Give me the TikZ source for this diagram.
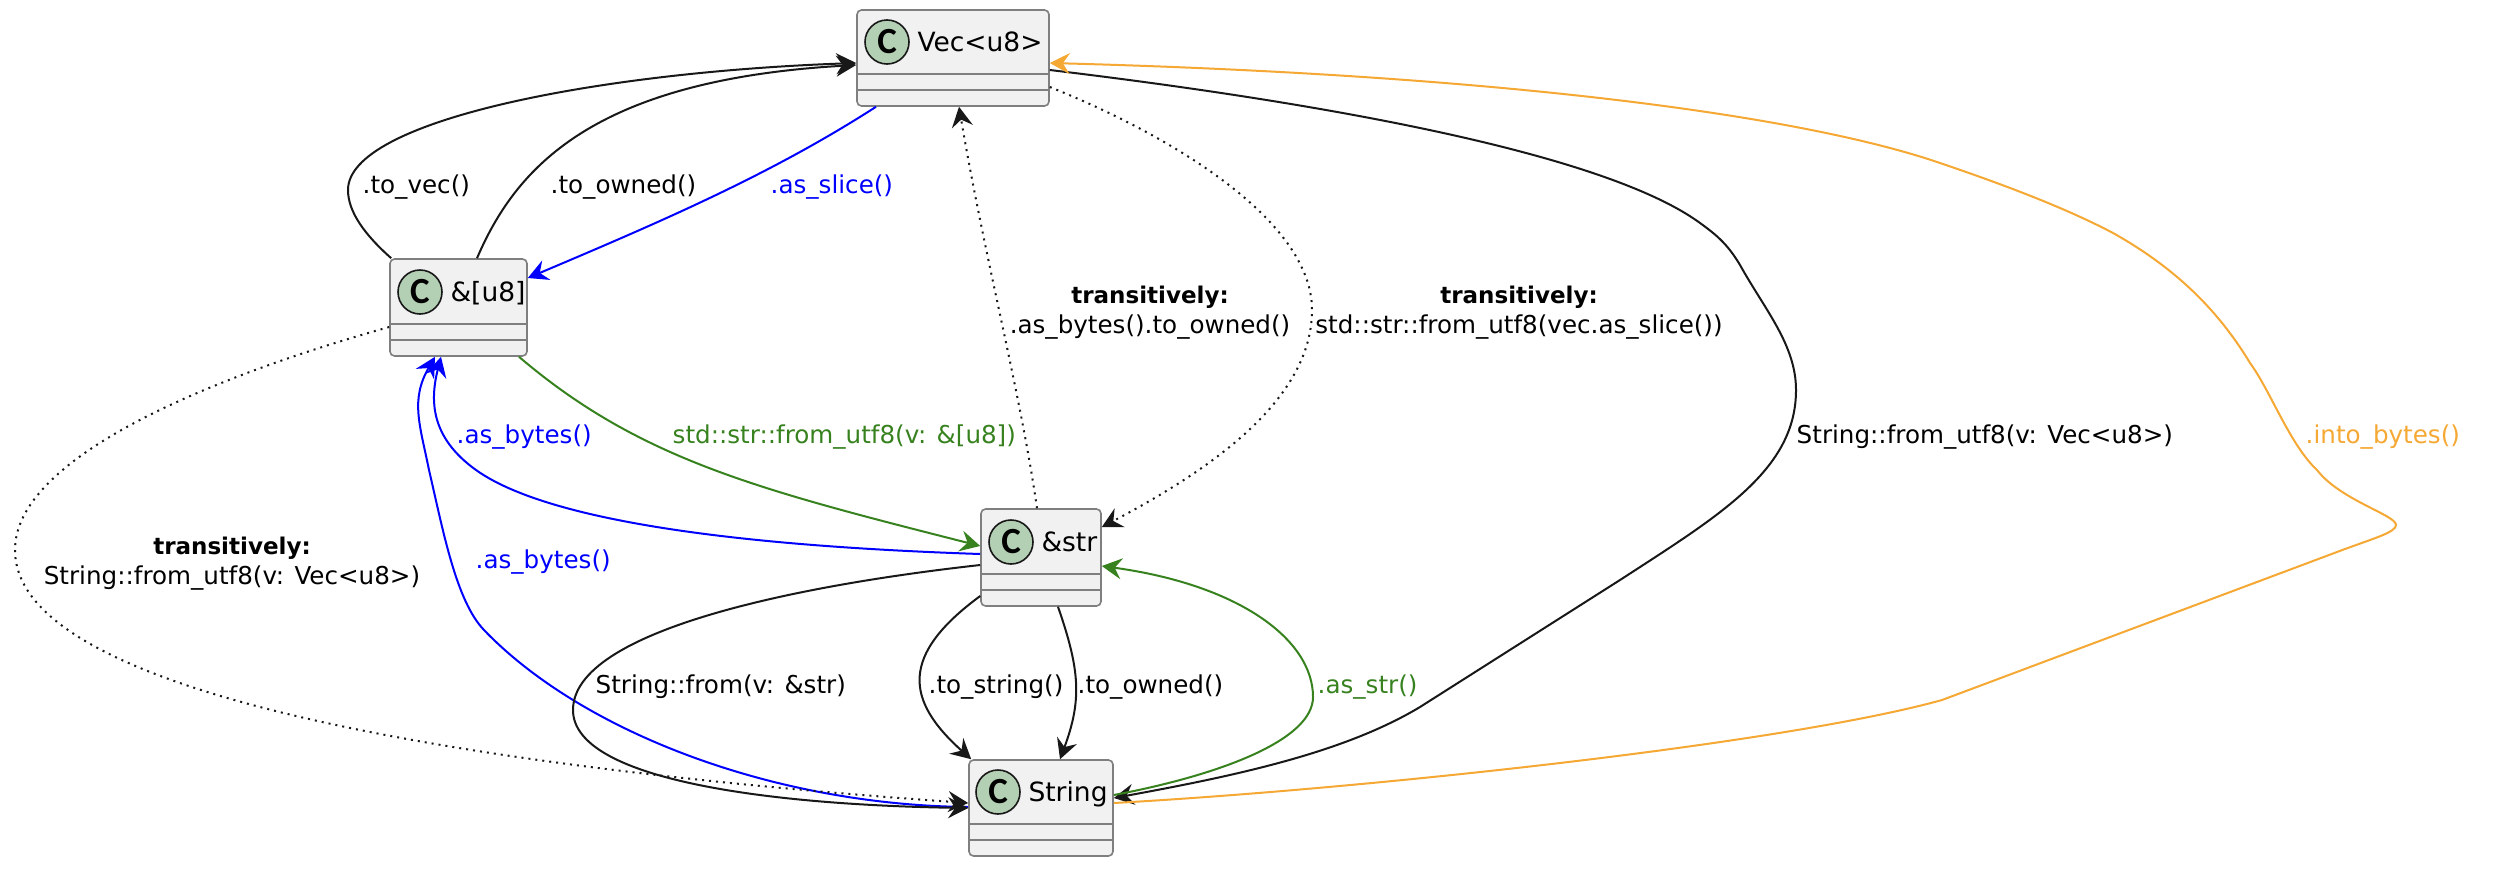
\documentclass[tikz,border=0pt]{standalone}
\usepackage{fontspec}
\setmainfont{DejaVu Sans}
\newfontfamily\spotfont{Carlito}
\usetikzlibrary{arrows.meta, positioning}
\definecolor{boxfill}{HTML}{F1F1F1}
\definecolor{boxline}{HTML}{7F7F7F}
\definecolor{spotfill}{HTML}{B4D0B4}
\definecolor{linkblack}{HTML}{181818}
\definecolor{linkblue}{HTML}{0000FF}
\definecolor{linkgreen}{HTML}{37821F}
\definecolor{linkorange}{HTML}{F5A833}
\newcommand{\transitword}{{\fontsize{6.55}{8.5}\selectfont\bfseries transitively:}}
\tikzstyle{classbox} = [rectangle, rounded corners=0.45mm, draw=boxline, fill=boxfill, line width=0.16mm, inner sep=0pt]
\tikzstyle{spot} = [circle, draw=linkblack, fill=spotfill, line width=0.16mm, minimum size=4.4mm, inner sep=0pt, font=\spotfont\bfseries\fontsize{10.5}{10.5}\selectfont]
\tikzstyle{classtitle} = [inner sep=0pt, text height=5.68pt, text depth=0pt, font=\fontsize{7.54}{9}\selectfont]
\tikzstyle{divider} = [draw=boxline, line width=0.16mm]
\tikzstyle{edgetext} = [inner sep=0pt, anchor=base west, font=\fontsize{7}{8.5}\selectfont]
\tikzstyle{transit} = [inner sep=0pt, align=center, font=\fontsize{7}{8.5}\selectfont]
\tikzstyle{arrow} = [line width=0.2mm, linkblack, -{Stealth[length=2mm, width=2.1mm, inset=0.7mm]}]
\tikzstyle{dotted arrow} = [arrow, dash pattern=on 0.2mm off 0.5mm]

\begin{document}
\begin{tikzpicture}[x=0.1mm, y=-0.1mm]
\useasboundingbox (0,0) rectangle (2504,868);

% classes
\node (vec) [classbox, minimum width=19.2mm, minimum height=9.6mm] at (953,58) {};
\node (vecspot) [spot] at (887,42) {C};
\node (vectitle) [classtitle, right=0.7mm of vecspot] {Vec<u8>};
\draw [divider] ([xshift=0.2mm, yshift=-1.6mm]vec.west) -- ([xshift=-0.2mm, yshift=-1.6mm]vec.east);
\draw [divider] ([xshift=0.2mm, yshift=-3.2mm]vec.west) -- ([xshift=-0.2mm, yshift=-3.2mm]vec.east);

\node (bytes) [classbox, minimum width=13.7mm, minimum height=9.7mm] at (458.5,307.5) {};
\node (bytesspot) [spot] at (420,292) {C};
\node (bytestitle) [classtitle, right=0.7mm of bytesspot] {\&[u8]};
\draw [divider] ([xshift=0.2mm, yshift=-1.65mm]bytes.west) -- ([xshift=-0.2mm, yshift=-1.65mm]bytes.east);
\draw [divider] ([xshift=0.2mm, yshift=-3.25mm]bytes.west) -- ([xshift=-0.2mm, yshift=-3.25mm]bytes.east);

\node (str) [classbox, minimum width=12mm, minimum height=9.7mm] at (1041,557.5) {};
\node (strspot) [spot] at (1011,542) {C};
\node (strtitle) [classtitle, right=0.7mm of strspot] {\&str};
\draw [divider] ([xshift=0.2mm, yshift=-1.65mm]str.west) -- ([xshift=-0.2mm, yshift=-1.65mm]str.east);
\draw [divider] ([xshift=0.2mm, yshift=-3.25mm]str.west) -- ([xshift=-0.2mm, yshift=-3.25mm]str.east);

\node (string) [classbox, minimum width=14.4mm, minimum height=9.6mm] at (1041,808) {};
\node (stringspot) [spot] at (998,792) {C};
\node (stringtitle) [classtitle, right=0.7mm of stringspot] {String};
\draw [divider] ([xshift=0.2mm, yshift=-1.6mm]string.west) -- ([xshift=-0.2mm, yshift=-1.6mm]string.east);
\draw [divider] ([xshift=0.2mm, yshift=-3.2mm]string.west) -- ([xshift=-0.2mm, yshift=-3.2mm]string.east);

% connectors
\draw [arrow] ([xshift=0.2mm]bytes.north west) .. controls (365,235) and (348,212) .. (348,190) .. controls (348,120) and (600,72) .. ([yshift=-0.5mm]vec.west);
\draw [arrow] ([xshift=1.85mm]bytes.north) .. controls (515,170) and (590,80) .. ([yshift=-0.7mm]vec.west);
\draw [arrow, linkblue] ([xshift=-7.7mm]vec.south) .. controls (770,175) and (660,222) .. ([yshift=2.95mm]bytes.east);
\draw [arrow, linkgreen] ([xshift=6.05mm]bytes.south) .. controls (640,460) and (760,490) .. ([yshift=1.15mm]str.west);
\draw [arrow, linkblue] ([yshift=0.35mm]str.west) .. controls (800,548) and (560,530) .. (476,470) .. controls (430,437) and (430,400) .. ([xshift=-1.75mm]bytes.south);
\draw [arrow, linkblue] ([yshift=0.1mm]string.west) .. controls (770,805) and (580,730) .. (484,630) .. controls (456,601) and (443,530) .. (429,470) .. controls (420,425) and (410,400) .. ([xshift=-2.35mm]bytes.south);
\draw [dotted arrow] ([yshift=-1.95mm]bytes.west) .. controls (200,380) and (15,460) .. (15,550) .. controls (15,700) and (500,770) .. ([yshift=0.5mm]string.west);
\draw [dotted arrow] ([xshift=-0.4mm]str.north) .. controls (1020,390) and (985,260) .. ([xshift=0.6mm]vec.south);
\draw [dotted arrow] ([yshift=-2.9mm]vec.east) .. controls (1170,135) and (1312,220) .. (1312,310) .. controls (1312,400) and (1210,470) .. ([yshift=3.05mm]str.east);
\draw [arrow] ([yshift=-1.2mm]vec.east) .. controls (1300,100) and (1600,150) .. (1700,223) .. controls (1718,236) and (1728,245) .. (1740,265) .. controls (1765,310) and (1796,345) .. (1796,390) .. controls (1796,470) and (1720,515) .. (1620,580) -- (1420,707) .. controls (1345,752) and (1240,775) .. ([yshift=1mm]string.east);
\draw [arrow, linkorange] ([yshift=0.5mm]string.east) .. controls (1350,790) and (1780,745) .. (1942,700) -- (2345,549) .. controls (2375,538) and (2396,532) .. (2396,525) .. controls (2396,515) and (2340,500) .. (2317,470) .. controls (2290,445) and (2270,390) .. (2250,363) .. controls (2215,305) and (2170,265) .. (2113,233) .. controls (2060,205) and (1990,180) .. (1940,163) .. controls (1800,115) and (1500,75) .. ([yshift=-0.5mm]vec.east);
\draw [arrow, linkgreen] ([yshift=1.3mm]string.east) .. controls (1220,775) and (1313,740) .. (1313,697) .. controls (1313,640) and (1240,585) .. ([yshift=-0.85mm]str.east);
\draw [arrow] ([yshift=-0.75mm]str.west) .. controls (800,585) and (573,630) .. (573,710) .. controls (573,780) and (770,805) .. (string.west);
\draw [arrow] ([yshift=-3.85mm]str.west) .. controls (900,655) and (905,700) .. ([xshift=0.3mm]string.north west);
\draw [arrow] ([xshift=1.7mm]str.south) .. controls (1080,670) and (1082,700) .. ([xshift=1.9mm]string.north);

% labels
\node (tovec) [edgetext] at (362,193) {.to\_vec()};
\node (bytesowned) [edgetext] at (550,193) {.to\_owned()};
\node (asslice) [edgetext, text=linkblue] at (770,193) {.as\_slice()};
\node (viabytes) [transit] at (1150,313) {\transitword\\.as\_bytes().to\_owned()};
\node (viaslice) [transit] at (1519,313) {\transitword\\std::str::from\_utf8(vec.as\_slice())};
\node (viautf) [transit] at (232,564) {\transitword\\String::from\_utf8(v: Vec<u8>)};
\node (strbytes) [edgetext, text=linkblue] at (456,443) {.as\_bytes()};
\node (stringbytes) [edgetext, text=linkblue] at (475,568) {.as\_bytes()};
\node (fromslice) [edgetext, text=linkgreen] at (672,443) {std::str::from\_utf8(v: \&[u8])};
\node (fromstr) [edgetext] at (595,693) {String::from(v: \&str)};
\node (tostring) [edgetext] at (928,693) {.to\_string()};
\node (strowned) [edgetext] at (1077,693) {.to\_owned()};
\node (asstr) [edgetext, text=linkgreen] at (1317,693) {.as\_str()};
\node (fromvec) [edgetext] at (1796,443) {String::from\_utf8(v: Vec<u8>)};
\node (intobytes) [edgetext, text=linkorange] at (2305,443) {.into\_bytes()};
\end{tikzpicture}
\end{document}
